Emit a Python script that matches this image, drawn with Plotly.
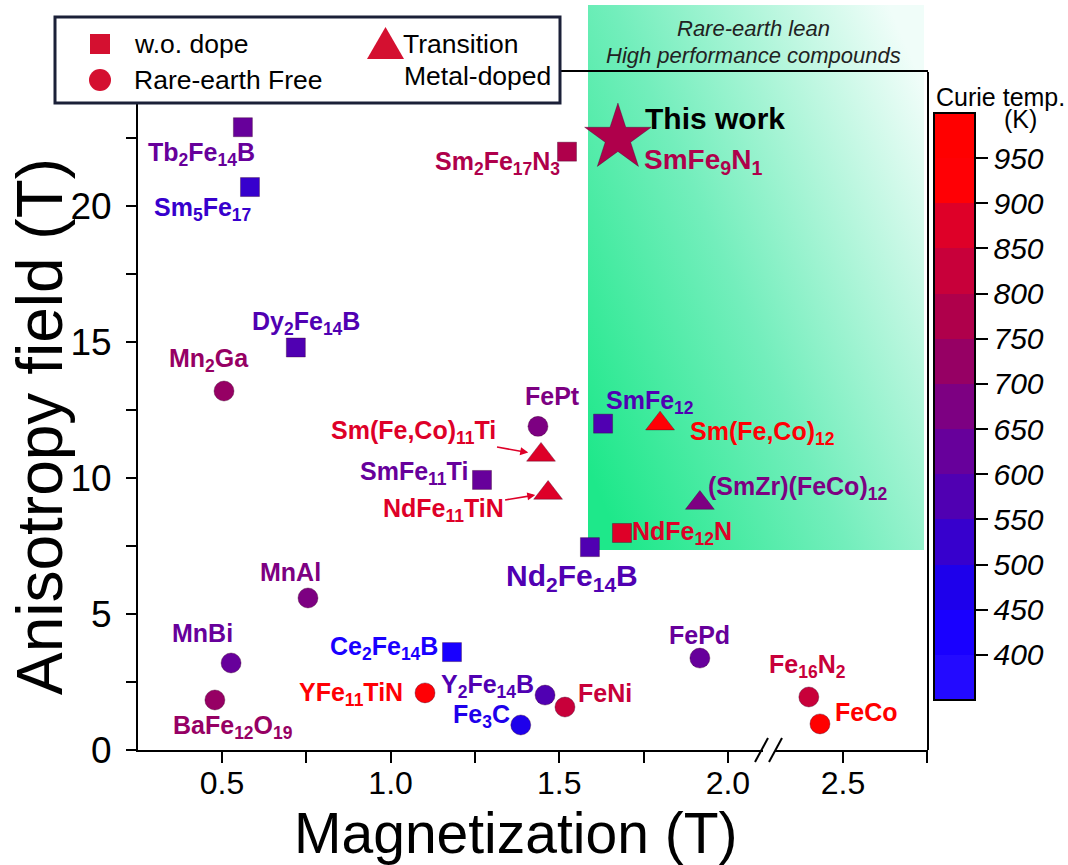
import plotly.graph_objects as go
import urllib.parse

# ---------------- data ----------------
label_text = [
    "Tb<sub>2</sub>Fe<sub>14</sub>B", "Sm<sub>5</sub>Fe<sub>17</sub>", "Dy<sub>2</sub>Fe<sub>14</sub>B",
    "Mn<sub>2</sub>Ga", "FePt", "Sm(Fe,Co)<sub>11</sub>Ti", "SmFe<sub>11</sub>Ti", "NdFe<sub>11</sub>TiN",
    "Nd<sub>2</sub>Fe<sub>14</sub>B", "NdFe<sub>12</sub>N", "SmFe<sub>12</sub>", "Sm(Fe,Co)<sub>12</sub>",
    "(SmZr)(FeCo)<sub>12</sub>", "SmFe<sub>9</sub>N<sub>1</sub>", "Sm<sub>2</sub>Fe<sub>17</sub>N<sub>3</sub>",
    "MnAl", "MnBi", "BaFe<sub>12</sub>O<sub>19</sub>", "Ce<sub>2</sub>Fe<sub>14</sub>B", "YFe<sub>11</sub>TiN",
    "Y<sub>2</sub>Fe<sub>14</sub>B", "FeNi", "Fe<sub>3</sub>C", "FePd", "Fe<sub>16</sub>N<sub>2</sub>", "FeCo",
]
magnetization = [0.562, 0.583, 0.719, 0.506, 1.437, 1.446, 1.271, 1.467, 1.591, 1.686, 1.630, 1.799,
                 1.917, 1.674, 1.523, 0.755, 0.527, 0.479, 1.182, 1.102, 1.458, 1.517, 1.386, 1.917,
                 2.399, 2.432]
anisotropy = [22.9, 20.7, 14.8, 13.2, 11.9, 10.85, 9.93, 9.45, 7.46, 7.98, 12.0, 12.0,
              9.08, 22.5, 22.0, 5.59, 3.2, 1.84, 3.6, 2.1, 2.02, 1.58, 0.92, 3.38,
              1.95, 0.96]
curie = [620, 540, 575, 740, 680, 870, 600, 860, 585, 860, 570, 900,
         690, 770, 750, 670, 610, 730, 430, 930, 565, 830, 470, 620,
         820, 980]
kind = ["wo", "wo", "wo", "free", "free", "tm", "wo", "tm", "wo", "wo", "wo", "tm",
        "tm", "this", "wo", "free", "free", "free", "wo", "free", "free", "free", "free", "free",
        "free", "free"]

x_ticks_main = [0.25, 0.5, 0.75, 1.0, 1.25, 1.5, 1.75, 2.0]
x_ticktext_main = ["", "0.5", "", "1.0", "", "1.5", "", "2.0"]
x_ticks_brk = [2.5, 2.75]
x_ticktext_brk = ["2.5", ""]
y_ticks = [0, 2.5, 5, 7.5, 10, 12.5, 15, 17.5, 20, 22.5]
y_ticktext = ["0", "", "5", "", "10", "", "15", "", "20", ""]
cbar_ticks = [400, 450, 500, 550, 600, 650, 700, 750, 800, 850, 900, 950]
band_low = [350, 400, 450, 500, 550, 600, 650, 700, 750, 800, 850, 900, 950]
band_colors = ["rgb(35,10,255)", "rgb(25,0,255)", "rgb(30,0,235)", "rgb(55,0,205)", "rgb(80,0,178)",
               "rgb(103,0,155)", "rgb(125,0,130)", "rgb(150,0,100)", "rgb(175,0,75)", "rgb(200,0,58)",
               "rgb(222,0,40)", "rgb(255,0,5)", "rgb(255,0,0)"]
CMIN, CMAX = 350, 1000
X_BREAK = 2.122

# ---------------- geometry helpers (layout only) ----------------
W, H = 1068, 865
L, R, T, B = 138, 928, 72, 750


def px(xp):
    return (xp - L) / (R - L)


def py(yp):
    return (B - yp) / (B - T)


FONT = "Liberation Sans, Arial, sans-serif"

# stepped colour scale
n = len(band_colors)
cscale = []
for i, c in enumerate(band_colors):
    cscale.append([i / n, c])
    cscale.append([(i + 1) / n, c])


def tc_color(v):
    idx = 0
    for i, lo in enumerate(band_low):
        if v >= lo:
            idx = i
    return band_colors[idx]


fig = go.Figure()

symbols = {"wo": ("square", 19), "free": ("circle", 20), "tm": ("triangle-up", 25), "this": ("star", 50)}
for k, (sym, size) in symbols.items():
    for axis in ("x", "x2"):
        idx = [i for i in range(len(kind)) if kind[i] == k and ((magnetization[i] > X_BREAK) == (axis == "x2"))]
        if not idx:
            continue
        fig.add_trace(go.Scatter(
            x=[magnetization[i] for i in idx], y=[anisotropy[i] for i in idx],
            mode="markers", xaxis=axis, yaxis="y", showlegend=False, hoverinfo="skip",
            marker=dict(symbol=sym, size=size, color=[curie[i] for i in idx], coloraxis="coloraxis",
                        line=dict(width=0.6, color="rgba(60,0,40,0.6)")),
        ))

# label offsets in pixels (dx right, dy down)
offsets = {
    0: (-41, 27), 1: (-47, 22), 2: (10, -25), 3: (-15, -31), 4: (15, -30),
    6: (-68, -7), 8: (-18, 30), 9: (60, 0), 10: (47, -22), 11: (102, 9), 12: (98, -15),
    13: (85, 23), 14: (-69, 11), 15: (-17, -26), 16: (-29, -30), 17: (18, 27), 18: (-68, -4),
    19: (-74, 1), 20: (-58, -9), 21: (40, -14), 22: (-39, -9), 23: (0, -23), 24: (-1, -31), 25: (47, -12),
}
big = {8: 30, 13: 28}
annotations = []


def ann(**kw):
    kw.setdefault("xanchor", "center")
    kw.setdefault("yanchor", "middle")
    kw.setdefault("showarrow", False)
    annotations.append(kw)


for i, (dx, dy) in offsets.items():
    xr = "x2" if magnetization[i] > X_BREAK else "x"
    ann(x=magnetization[i], y=anisotropy[i], xref=xr, yref="y",
        text="<b>" + label_text[i] + "</b>", xshift=dx, yshift=-dy,
        font=dict(family=FONT, size=big.get(i, 25), color=tc_color(curie[i])))
# labels with arrows
for i, (ax, ay) in {5: (-128, -23), 7: (-105, 17)}.items():
    ann(x=magnetization[i], y=anisotropy[i], xref="x", yref="y", showarrow=True,
        ax=ax, ay=ay, axref="pixel", ayref="pixel", standoff=13,
        arrowhead=2, arrowsize=1, arrowwidth=1.6, arrowcolor=tc_color(curie[i]),
        text="<b>" + label_text[i] + "</b>",
        font=dict(family=FONT, size=25, color=tc_color(curie[i])))
# "This work"
ann(x=magnetization[13], y=anisotropy[13], xref="x", yref="y",
    text="<b>This work</b>", xshift=97, yshift=20,
    font=dict(family=FONT, size=30, color="black"))

# axis titles
ann(x=px(516), y=py(833), xref="paper", yref="paper",
    text="Magnetization (T)", font=dict(family=FONT, size=57, color="black"))
ann(x=px(40), y=py(427), xref="paper", yref="paper", textangle=-90,
    text="Anisotropy field (T)", font=dict(family=FONT, size=64, color="black"))
# region caption
ann(x=px(753), y=py(29), xref="paper", yref="paper",
    text="<i>Rare-earth lean</i>", font=dict(family=FONT, size=22, color="#222"))
ann(x=px(753), y=py(56), xref="paper", yref="paper",
    text="<i>High performance compounds</i>", font=dict(family=FONT, size=22, color="#222"))
# colorbar title
ann(x=px(1000), y=py(97), xref="paper", yref="paper",
    text="Curie temp.", font=dict(family=FONT, size=25, color="black"))
ann(x=px(1020), y=py(119), xref="paper", yref="paper",
    text="(K)", font=dict(family=FONT, size=25, color="black"))
# legend texts
leg_red = "rgb(212,16,48)"
for txt, xx, yy in [("w.o. dope", 132, 44), ("Rare-earth Free", 132, 80),
                    ("Transition", 401, 44), ("Metal-doped", 402, 76)]:
    ann(x=px(xx), y=py(yy), xref="paper", yref="paper", xanchor="left",
        text=txt, font=dict(family=FONT, size=26.5, color="black"))

shapes = [
    # right frame line
    dict(type="line", xref="paper", yref="paper", x0=1, x1=1, y0=0, y1=1, line=dict(color="black", width=2)),
    # axis break
    dict(type="rect", xref="paper", yref="paper", x0=px(763), x1=px(775), y0=py(753), y1=py(746),
         fillcolor="white", line=dict(width=0)),
    dict(type="line", xref="paper", yref="paper", x0=px(755), y0=py(762), x1=px(768), y1=py(738),
         line=dict(color="black", width=2)),
    dict(type="line", xref="paper", yref="paper", x0=px(769), y0=py(762), x1=px(782), y1=py(738),
         line=dict(color="black", width=2)),
    # legend box
    dict(type="rect", xref="paper", yref="paper", x0=px(55), x1=px(560), y0=py(103), y1=py(17),
         fillcolor="white", line=dict(color="#1b2038", width=3), layer="above"),
    dict(type="rect", xref="paper", yref="paper", x0=px(90), x1=px(110), y0=py(54), y1=py(34),
         fillcolor=leg_red, line=dict(width=0), layer="above"),
    dict(type="circle", xref="paper", yref="paper", x0=px(89), x1=px(111), y0=py(91), y1=py(69),
         fillcolor=leg_red, line=dict(width=0), layer="above"),
    dict(type="path", xref="paper", yref="paper",
         path=f"M {px(367)},{py(59)} L {px(404)},{py(59)} L {px(385.5)},{py(27)} Z",
         fillcolor=leg_red, line=dict(width=0), layer="above"),
]

svg = ("<svg xmlns='http://www.w3.org/2000/svg' width='340' height='545' preserveAspectRatio='none'>"
       "<defs><linearGradient id='g' x1='0' y1='0.85' x2='1' y2='0.15'>"
       "<stop offset='0' stop-color='rgb(30,232,138)'/>"
       "<stop offset='0.45' stop-color='rgb(115,238,188)'/>"
       "<stop offset='1' stop-color='rgb(240,253,249)'/>"
       "</linearGradient></defs><rect width='340' height='545' fill='url(#g)'/></svg>")
src = "data:image/svg+xml;charset=utf-8," + urllib.parse.quote(svg)
images = [dict(source=src, xref="paper", yref="paper", x=px(588), y=py(5), sizex=px(924) - px(588),
               sizey=py(5) - py(550), xanchor="left", yanchor="top", sizing="stretch", layer="below")]

axis_common = dict(showline=True, linecolor="black", linewidth=2, ticks="outside", ticklen=11,
                   tickwidth=2, tickcolor="black", showgrid=False, zeroline=False,
                   ticklabelstandoff=-7,
                   tickfont=dict(family=FONT, size=32, color="black"))

fig.update_layout(
    width=W, height=H, margin=dict(l=L, r=W - R, t=T, b=H - B, autoexpand=False),
    paper_bgcolor="white", plot_bgcolor="rgba(0,0,0,0)",
    xaxis=dict(domain=[0, px(769)], range=[0.251, X_BREAK], tickvals=x_ticks_main,
               ticktext=x_ticktext_main, mirror=True, **axis_common),
    xaxis2=dict(domain=[px(769), 1], range=[2.281, 2.752], anchor="y", tickvals=x_ticks_brk,
                ticktext=x_ticktext_brk, mirror=True, **axis_common),
    yaxis=dict(range=[0, 24.93], tickvals=y_ticks, ticktext=y_ticktext, mirror=False,
               **{**axis_common, "ticklen": 10, "ticklabelstandoff": 7,
                  "tickfont": dict(family=FONT, size=37, color="black")}),
    coloraxis=dict(cmin=CMIN, cmax=CMAX, colorscale=cscale, colorbar=dict(
        x=px(934), xanchor="left", xpad=0, ypad=0, y=py(700), yanchor="bottom",
        len=587, lenmode="pixels", thickness=41, thicknessmode="pixels",
        outlinewidth=2, outlinecolor="black", tickvals=cbar_ticks,
        ticktext=["<i>%d</i>" % v for v in cbar_ticks], ticks="outside",
        ticklen=12, tickwidth=2, tickcolor="black",
        tickfont=dict(family=FONT, size=30, color="black"))),
    annotations=annotations, shapes=shapes, images=images,
)

fig.write_html("out.html", config={"displayModeBar": False},
               post_script="document.body.style.margin='0';")
